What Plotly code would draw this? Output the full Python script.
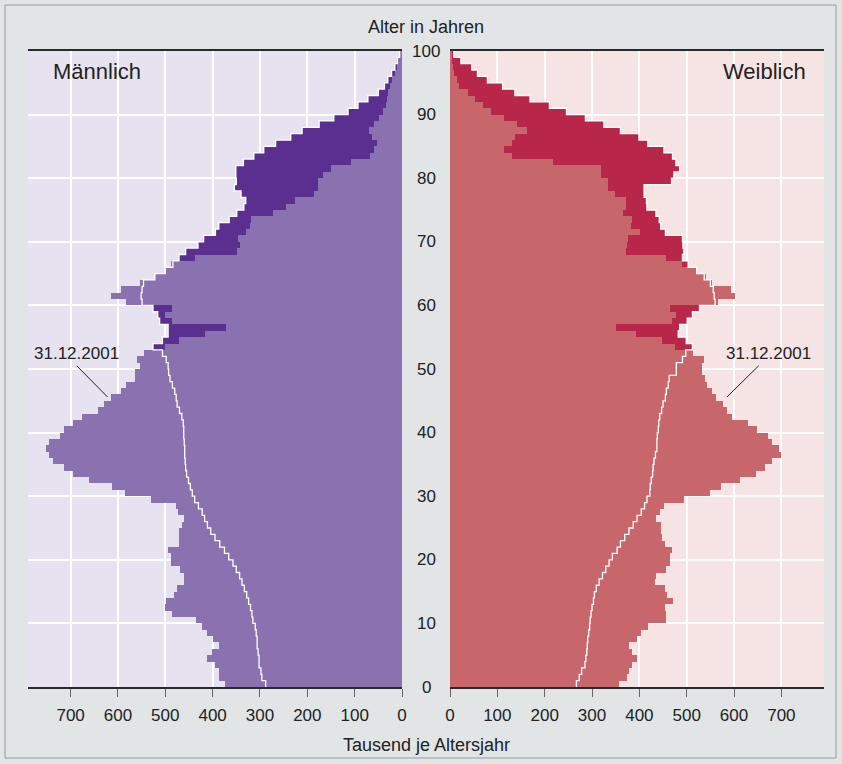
import plotly.graph_objects as go

# ---------------- data (thousands per single year of age) ----------------
ages = list(range(0, 100))

male_2001 = [373, 387, 387, 396, 411, 401, 387, 399, 412, 422,
             436, 485, 500, 499, 482, 476, 461, 461, 468, 487,
             487, 495, 472, 470, 470, 465, 460, 473, 477, 531,
             585, 613, 661, 696, 713, 737, 745, 753, 746, 723,
             715, 694, 675, 643, 630, 615, 594, 584, 565, 565,
             553, 560, 546, 501, 472, 417, 371, 486, 501, 485,
             584, 615, 594, 554, 522, 500, 487, 438, 349, 342,
             346, 330, 322, 320, 273, 246, 227, 186, 177, 177,
             167, 151, 108, 68, 60, 53, 63, 70, 60, 49,
             40, 33, 31, 29, 25, 22, 15, 10, 6, 3]

male_2050 = [288, 296, 298, 302, 302, 304, 306, 306, 308, 310,
             315, 317, 320, 324, 328, 333, 338, 343, 350, 357,
             366, 375, 385, 395, 404, 411, 417, 422, 430, 438,
             443, 447, 451, 455, 457, 458, 459, 459, 460, 461,
             461, 462, 465, 470, 475, 477, 480, 485, 490, 493,
             494, 498, 506, 526, 506, 494, 494, 512, 516, 526,
             549, 551, 549, 546, 522, 500, 484, 471, 457, 431,
             419, 394, 387, 365, 349, 334, 330, 340, 354, 350,
             351, 351, 335, 313, 292, 267, 235, 211, 175, 144,
             114, 93, 72, 50, 37, 30, 22, 15, 9, 5]

female_2001 = [357, 373, 378, 384, 394, 384, 378, 395, 403, 418,
               457, 457, 454, 470, 459, 454, 433, 435, 457, 464,
               464, 468, 454, 448, 446, 446, 435, 443, 451, 494,
               549, 572, 612, 646, 665, 681, 700, 694, 681, 672,
               648, 629, 596, 585, 577, 561, 554, 543, 539, 533,
               533, 536, 513, 475, 448, 392, 350, 468, 477, 464,
               566, 601, 594, 554, 541, 522, 491, 456, 371, 373,
               376, 401, 383, 385, 366, 371, 371, 348, 334, 334,
               320, 320, 218, 132, 113, 132, 137, 162, 141, 114,
               86, 70, 53, 39, 18, 15, 8, 7, 5, 3]

female_2050 = [267, 273, 278, 285, 287, 289, 290, 291, 293, 295,
               296, 298, 300, 303, 305, 309, 315, 322, 329, 336,
               343, 353, 360, 369, 378, 387, 395, 404, 411, 416,
               422, 423, 425, 428, 429, 431, 434, 437, 437, 438,
               440, 441, 443, 447, 450, 455, 457, 461, 463, 478,
               478, 491, 498, 512, 499, 482, 485, 501, 512, 527,
               560, 558, 556, 550, 537, 521, 503, 491, 494, 492,
               491, 455, 445, 442, 435, 416, 415, 410, 410, 468,
               473, 485, 477, 470, 452, 418, 399, 360, 325, 286,
               246, 210, 169, 137, 111, 79, 58, 46, 23, 8]

x_ticks = [0, 100, 200, 300, 400, 500, 600, 700]
age_ticks = list(range(0, 101, 10))

# ---------------- style ----------------
PAPER = "#e1e5e6"
BG_M = "#e6e2ef"
BG_F = "#f6e3e3"
M_LIGHT = "#8a71b0"
M_DARK = "#5b2f8f"
F_LIGHT = "#c8676b"
F_DARK = "#b8274a"
TXT = "#222222"
FONT = "Liberation Sans, Arial, Helvetica, sans-serif"

fig = go.Figure()

def add_side(v2001, v2050, light, dark, xa, ya):
    fig.add_trace(go.Bar(x=v2050, y=ages, orientation="h", width=1, offset=0,
                         marker=dict(color=dark, line=dict(width=0)),
                         xaxis=xa, yaxis=ya, showlegend=False, hoverinfo="skip"))
    fig.add_trace(go.Bar(x=v2001, y=ages, orientation="h", width=1, offset=0,
                         marker=dict(color=light, line=dict(width=0)),
                         xaxis=xa, yaxis=ya, showlegend=False, hoverinfo="skip"))
    fig.add_trace(go.Scatter(x=v2050 + [v2050[-1]], y=ages + [100], mode="lines",
                             line=dict(color="white", width=1.3, shape="vh"),
                             xaxis=xa, yaxis=ya, showlegend=False, hoverinfo="skip"))

add_side(male_2001, male_2050, M_LIGHT, M_DARK, "x", "y")
add_side(female_2001, female_2050, F_LIGHT, F_DARK, "x2", "y2")

axis_common = dict(
    tickvals=x_ticks, ticktext=[str(v) for v in x_ticks],
    ticks="outside", ticklen=8, tickwidth=1, tickcolor="#666666",
    tickfont=dict(size=17, color=TXT, family=FONT),
    showgrid=True, gridcolor="white", gridwidth=1.6,
    showline=True, linecolor="#2a2a2a", linewidth=1.5, mirror=True,
    zeroline=False, fixedrange=True, ticklabelstandoff=4,
)
yaxis_common = dict(
    range=[0, 100], tickvals=age_ticks, showticklabels=False, ticks="",
    showgrid=True, gridcolor="white", gridwidth=1.6,
    showline=False, zeroline=False, fixedrange=True,
)

L_DOM = [0.0, (402 - 28) / 796]
R_DOM = [(450 - 28) / 796, 1.0]

fig.update_layout(
    width=842, height=764,
    margin=dict(l=28, r=18, t=51, b=77),
    paper_bgcolor=PAPER, plot_bgcolor="rgba(0,0,0,0)",
    barmode="overlay", bargap=0,
    font=dict(family=FONT, color=TXT),
    xaxis=dict(domain=L_DOM, range=[790, 0], anchor="y", **axis_common),
    xaxis2=dict(domain=R_DOM, range=[0, 790], anchor="y2", **axis_common),
    yaxis=dict(domain=[0, 1], anchor="x", **yaxis_common),
    yaxis2=dict(domain=[0, 1], anchor="x2", matches="y", **yaxis_common),
    showlegend=False,
)

shapes = [
    dict(type="rect", xref="x domain", yref="y domain", x0=0, x1=1, y0=0, y1=1,
         fillcolor=BG_M, line=dict(width=0), layer="below"),
    dict(type="rect", xref="x2 domain", yref="y2 domain", x0=0, x1=1, y0=0, y1=1,
         fillcolor=BG_F, line=dict(width=0), layer="below"),
    # outer frame
    dict(type="rect", xref="paper", yref="paper",
         x0=(5 - 28) / 796, x1=(836 - 28) / 796,
         y0=(687 - 758) / 636, y1=(687 - 5) / 636,
         line=dict(color="#9a9a9a", width=1), fillcolor="rgba(0,0,0,0)", layer="below"),
    # leader lines for 31.12.2001
    dict(type="line", xref="x", yref="y", x0=687, y0=50.5, x1=622, y1=45.6,
         line=dict(color=TXT, width=1)),
    dict(type="line", xref="x2", yref="y2", x0=652, y0=50.5, x1=585, y1=45.6,
         line=dict(color=TXT, width=1)),
]
fig.update_layout(shapes=shapes)

ann = []
mid_x = (426 - 28) / 796
for a in age_ticks:
    ann.append(dict(xref="paper", yref="y", x=mid_x, y=a, text=str(a), showarrow=False,
                    xanchor="center", yanchor="middle", font=dict(size=17, color=TXT)))
ann += [
    dict(xref="paper", yref="paper", x=mid_x, y=(687 - 27) / 636, text="Alter in Jahren",
         showarrow=False, xanchor="center", yanchor="middle", font=dict(size=18, color=TXT)),
    dict(xref="paper", yref="paper", x=mid_x, y=(687 - 745) / 636, text="Tausend je Altersjahr",
         showarrow=False, xanchor="center", yanchor="middle", font=dict(size=18, color=TXT)),
    dict(xref="paper", yref="paper", x=(51 - 28) / 796, y=(687 - 71) / 636, text="Männlich",
         showarrow=False, xanchor="left", yanchor="middle", font=dict(size=22, color=TXT)),
    dict(xref="paper", yref="paper", x=(808 - 28) / 796, y=(687 - 71) / 636, text="Weiblich",
         showarrow=False, xanchor="right", yanchor="middle", font=dict(size=22, color=TXT)),
    dict(xref="x", yref="y", x=688, y=52.4, text="31.12.2001", showarrow=False,
         xanchor="center", yanchor="middle", font=dict(size=17, color=TXT)),
    dict(xref="x2", yref="y2", x=673, y=52.4, text="31.12.2001", showarrow=False,
         xanchor="center", yanchor="middle", font=dict(size=17, color=TXT)),
]
fig.update_layout(annotations=ann)

fig.write_html("out.html", config={"displayModeBar": False},
               post_script="document.body.style.margin='0';")
